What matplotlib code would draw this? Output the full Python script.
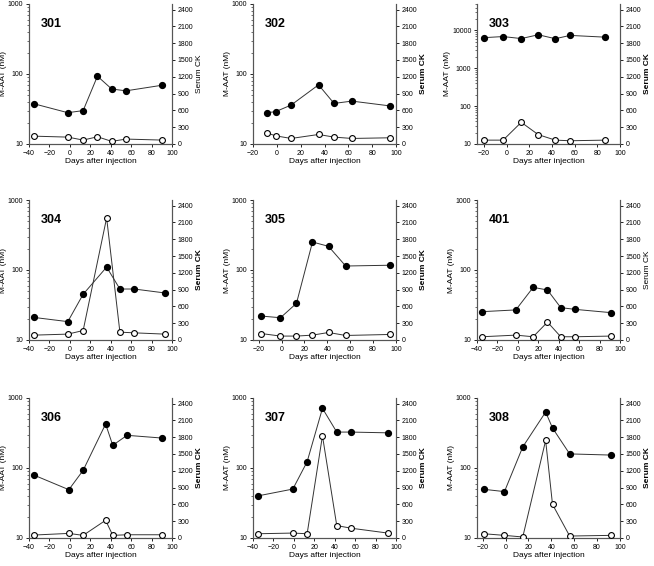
import matplotlib
matplotlib.use("Agg")
import matplotlib.pyplot as plt
from matplotlib.ticker import LogLocator, NullFormatter

plt.rcParams["font.family"] = ["Liberation Sans", "DejaVu Sans"]

# datos: dias, M-AAT (nM) y CK serico por animal
ids = ["301", "302", "303", "304", "305", "401", "306", "307", "308"]

days = {
    "301": [-35, -2, 13, 27, 41, 55, 90],
    "302": [-8, -1, 12, 35, 48, 63, 95],
    "303": [-20, -3, 13, 28, 43, 56, 87],
    "304": [-35, -2, 13, 36, 49, 63, 93],
    "305": [-18, -1, 13, 27, 41, 56, 95],
    "401": [-35, -2, 15, 29, 42, 56, 91],
    "306": [-35, -1, 13, 35, 42, 56, 90],
    "307": [-35, -1, 13, 28, 42, 56, 92],
    "308": [-19, -1, 15, 35, 41, 56, 92],
}

maat = {
    "301": [37.5, 28, 30, 93, 61, 57.5, 69],
    "302": [28, 29, 36, 70, 38, 41, 35],
    "303": [6450, 6900, 6100, 7700, 6050, 7400, 6650],
    "304": [21, 18.3, 45, 110, 53.5, 53.5, 47],
    "305": [22, 20.8, 33.4, 251, 218, 114, 117],
    "401": [25.4, 26.9, 56.5, 51.8, 29, 27.4, 24.6],
    "306": [79, 49, 92.6, 425, 211, 293, 268],
    "307": [40, 50, 123, 711, 326, 326, 318],
    "308": [49.6, 46, 200, 630, 373, 159, 153],
}

ck = {
    "301": [140, 123, 70, 129, 47, 88, 70],
    "302": [196, 146, 99, 170, 123, 99, 111],
    "303": [69, 69, 387, 167, 69, 58, 69],
    "304": [87, 105, 169, 2180, 140, 128, 105],
    "305": [116, 70, 70, 87, 134, 81, 99],
    "401": [58, 87, 58, 320, 58, 58, 70],
    "306": [53, 82, 47, 316, 47, 58, 58],
    "307": [76, 88, 76, 1825, 222, 175, 88],
    "308": [76, 47, 18, 1742, 600, 35, 47],
}

xlims = {
    "301": (-40, 100), "302": (-20, 100), "303": (-26, 100),
    "304": (-40, 100), "305": (-25, 100), "401": (-40, 100),
    "306": (-40, 100), "307": (-40, 100), "308": (-25, 100),
}

bold_ck = {"301": False, "401": False}

fig = plt.figure(figsize=(6.54, 5.66), dpi=100)

lefts = [29 / 654, 253 / 654, 477 / 654]
bottoms = [1 - 144 / 566, 1 - 340 / 566, 1 - 538 / 566]
w = 143 / 654
h = 140 / 566

spine_col = "#555555"
line_col = "#333333"

for i, pid in enumerate(ids):
    r, c = divmod(i, 3)
    ax = fig.add_axes([lefts[c], bottoms[r], w, h])
    ax2 = ax.twinx()

    ax.set_yscale("log")
    if pid == "303":
        ax.set_ylim(10, 50000)
        ax.set_yticks([10, 100, 1000, 10000])
    else:
        ax.set_ylim(10, 1000)
        ax.set_yticks([10, 100, 1000])
    ax.set_yticklabels([str(t) for t in ax.get_yticks()])
    ax.yaxis.set_minor_locator(LogLocator(base=10, subs=range(2, 10)))
    ax.yaxis.set_minor_formatter(NullFormatter())

    ax.plot(days[pid], maat[pid], "-o", color=line_col, lw=0.7,
            mfc="black", mec="black", ms=4.2, zorder=3)
    ax2.plot(days[pid], ck[pid], "-o", color=line_col, lw=0.7,
             mfc="white", mec="black", mew=0.8, ms=4.2, zorder=3)

    ax2.set_ylim(0, 2500)
    ax2.set_yticks(range(0, 2401, 300))
    ax.set_xlim(*xlims[pid])
    ax.set_xticks(range(-40 if xlims[pid][0] <= -40 else -20, 101, 20))

    for a in (ax, ax2):
        a.spines["top"].set_visible(False)
        for s in ("left", "right", "bottom"):
            a.spines[s].set_color(spine_col)
            a.spines[s].set_linewidth(0.8)
        a.tick_params(labelsize=5, length=2.5, width=0.6, colors="black", pad=1.5)
        a.tick_params(which="minor", length=1.2, width=0.4)

    ax.set_xlabel("Days after injection", fontsize=6, labelpad=1)
    ax.set_ylabel("M-AAT (nM)", fontsize=6, labelpad=1)
    ax2.set_ylabel("Serum CK", fontsize=6, labelpad=2,
                   fontweight="normal" if pid in bold_ck else "bold")

    ax.text(0.08, 0.9, pid, transform=ax.transAxes, fontsize=9,
            fontweight="bold", va="top", ha="left")

fig.savefig("out.png", dpi=100)
